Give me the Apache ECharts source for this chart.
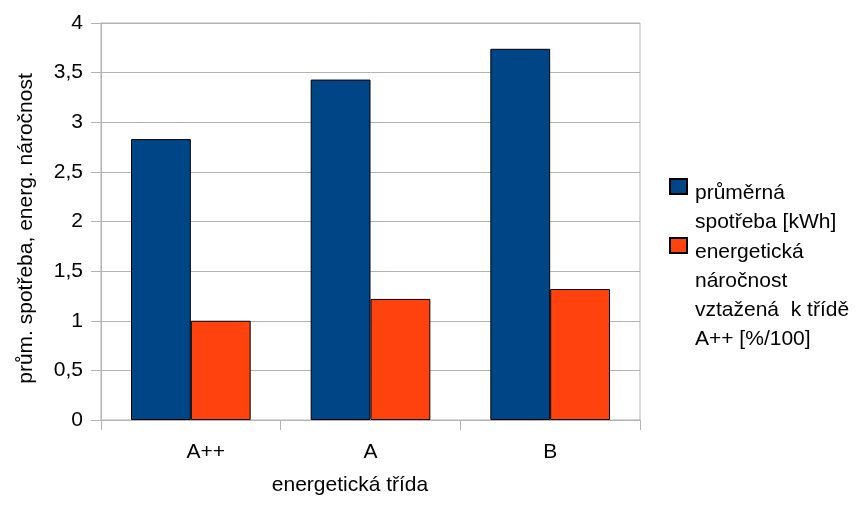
<!DOCTYPE html>
<html>
<head>
<meta charset="utf-8">
<script src="https://cdn.jsdelivr.net/npm/echarts@6/dist/echarts.min.js"></script>
<style>
html,body{margin:0;padding:0;background:#fff;}
#c{width:857px;height:507px;}
</style>
</head>
<body>
<div id="c"></div>
<script>
const categories = ['A++', 'A', 'B'];
const consumption = [2.83, 3.43, 3.74];
const efficiency = [1.0, 1.22, 1.32];
const seriesNames = ['průměrná\nspotřeba [kWh]', 'energetická\nnáročnost\nvztažená  k třídě\nA++ [%/100]'];
const yTicks = { min: 0, max: 4, interval: 0.5 };
const xAxisTitle = 'energetická třída';
const yAxisTitle = 'prům. spotřeba, energ. náročnost';

const FONT = 'Liberation Sans';
const GRAY = '#b3b3b3';
const LH = 29;

function legendFor(name, lines, iconTop) {
  const h = lines * LH;
  return {
    data: [name],
    left: 669,
    top: iconTop,
    orient: 'vertical',
    padding: 0,
    itemWidth: 20,
    itemHeight: h,
    icon: 'path://M0,0h17v15h-17z M20,' + h,
    selectedMode: false,
    textStyle: { fontFamily: FONT, fontSize: 21, color: '#000', lineHeight: LH }
  };
}

const chart = echarts.init(document.getElementById('c'), null, { renderer: 'canvas' });
chart.setOption({
  animation: false,
  backgroundColor: '#fff',
  textStyle: { fontFamily: FONT },
  grid: { left: 101, right: 217, top: 23, bottom: 87, show: true, borderColor: GRAY, borderWidth: 1, backgroundColor: 'transparent' },
  legend: [
    legendFor(seriesNames[0], 2, 178),
    legendFor(seriesNames[1], 4, 237)
  ],
  xAxis: {
    type: 'category',
    data: categories,
    name: xAxisTitle,
    nameLocation: 'middle',
    nameGap: 55,
    nameTextStyle: { fontFamily: FONT, fontSize: 21, color: '#000', padding: [0, 41, 0, 0] },
    axisLine: { show: true, lineStyle: { color: GRAY, width: 1 } },
    axisTick: { show: true, length: 10, alignWithLabel: false, lineStyle: { color: GRAY } },
    axisLabel: {
      fontFamily: FONT, fontSize: 21, color: '#000', margin: 22,
      formatter: function (v) { return v === categories[0] ? '{s|' + v + '}' : v; },
      rich: { s: { fontFamily: FONT, fontSize: 21, color: '#000', padding: [0, 0, 0, 30] } }
    },
    splitLine: { show: false }
  },
  yAxis: {
    type: 'value',
    min: yTicks.min, max: yTicks.max, interval: yTicks.interval,
    name: yAxisTitle,
    nameLocation: 'middle',
    nameGap: 64,
    nameTextStyle: { fontFamily: FONT, fontSize: 21, color: '#000', padding: [0, 14, 0, 0] },
    axisLine: { show: true, lineStyle: { color: GRAY, width: 1 } },
    axisTick: { show: true, length: 10, lineStyle: { color: GRAY } },
    axisLabel: {
      fontFamily: FONT, fontSize: 21, color: '#000', margin: 18,
      formatter: function (v) { return String(v).replace('.', ','); }
    },
    splitLine: { show: true, lineStyle: { color: GRAY, width: 1 } }
  },
  series: [
    {
      name: seriesNames[0], type: 'bar', data: consumption,
      barGap: '0%', barCategoryGap: '33.4%',
      itemStyle: { color: '#004586', borderColor: '#000', borderWidth: 1 }
    },
    {
      name: seriesNames[1], type: 'bar', data: efficiency,
      itemStyle: { color: '#ff420e', borderColor: '#000', borderWidth: 1 }
    }
  ]
});
</script>
</body>
</html>
